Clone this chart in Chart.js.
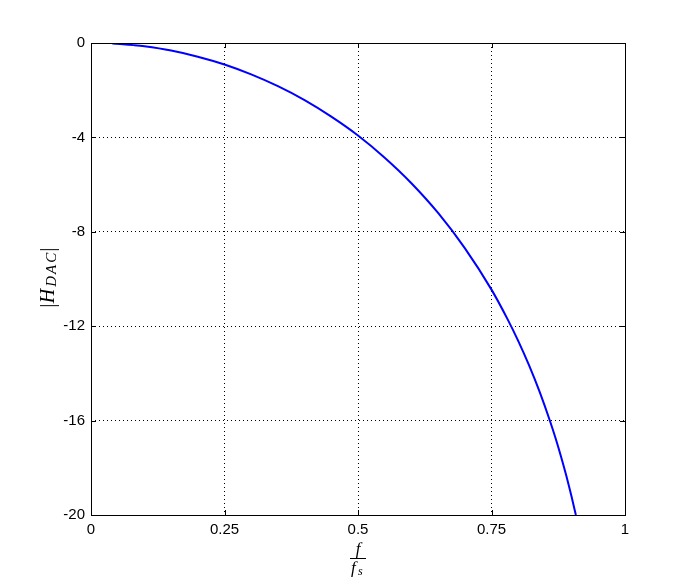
<!DOCTYPE html>
<html lang="en">
<head>
    <meta charset="UTF-8">
    <title>|H_DAC| vs f/fs</title>
    <style>
        body { margin: 0; background: #fff; }
        #chart { display: block; }
    </style>
</head>
<body>
    <canvas id="chart" width="691" height="579"></canvas>

    <script src="https://cdn.jsdelivr.net/npm/chart.js"></script>
    <script>
        // values
        const freq = [0.04, 0.06, 0.08, 0.1, 0.15, 0.2, 0.25, 0.3, 0.35, 0.4, 0.45, 0.5, 0.55, 0.6, 0.65, 0.7, 0.75, 0.78, 0.8, 0.82, 0.84, 0.86, 0.87, 0.88, 0.89, 0.895, 0.9, 0.908];
        const magDb = [-0.02, -0.05, -0.09, -0.14, -0.32, -0.58, -0.91, -1.33, -1.83, -2.42, -3.12, -3.92, -4.86, -5.94, -7.20, -8.69, -10.45, -11.70, -12.62, -13.64, -14.77, -16.05, -16.75, -17.51, -18.33, -18.77, -19.23, -20.0];
        const xTicks = [0, 0.25, 0.5, 0.75, 1];
        const yTicks = [0, -4, -8, -12, -16, -20];

        const points = freq.map((f, i) => ({ x: f, y: magDb[i] }));
        const tickFont = { family: 'Liberation Sans, Arial, sans-serif', size: 15 };

        // box, inward tick marks and the TeX-like axis labels
        const frame = {
            id: 'frame',
            afterDraw(chart) {
                const ctx = chart.ctx;
                const a = chart.chartArea;
                const xs = chart.scales.x, ys = chart.scales.y;
                const len = 5;
                ctx.save();
                ctx.strokeStyle = '#000';
                ctx.lineWidth = 1;
                ctx.beginPath();
                xTicks.forEach(v => {
                    const px = Math.round(xs.getPixelForValue(v)) + 0.5;
                    ctx.moveTo(px, a.bottom); ctx.lineTo(px, a.bottom - len);
                    ctx.moveTo(px, a.top); ctx.lineTo(px, a.top + len);
                });
                yTicks.forEach(v => {
                    const py = Math.round(ys.getPixelForValue(v)) + 0.5;
                    ctx.moveTo(a.left, py); ctx.lineTo(a.left + len, py);
                    ctx.moveTo(a.right, py); ctx.lineTo(a.right - len, py);
                });
                ctx.stroke();
                ctx.strokeRect(Math.round(a.left) + 0.5, Math.round(a.top) + 0.5,
                    Math.round(a.right - a.left), Math.round(a.bottom - a.top));

                // x label: f over f_s
                const cx = (a.left + a.right) / 2;
                ctx.fillStyle = '#000';
                ctx.textAlign = 'center';
                ctx.textBaseline = 'alphabetic';
                ctx.font = 'italic 17px "Liberation Serif", serif';
                ctx.fillText('f', cx, 554);
                ctx.beginPath();
                ctx.moveTo(cx - 8, 558.5); ctx.lineTo(cx + 8, 558.5);
                ctx.stroke();
                ctx.textAlign = 'left';
                ctx.fillText('f', cx - 7, 573);
                ctx.font = 'italic 12px "Liberation Serif", serif';
                ctx.fillText('s', cx, 575);

                // y label: |H_DAC|
                const cy = (a.top + a.bottom) / 2;
                ctx.translate(54, cy);
                ctx.rotate(-Math.PI / 2);
                const big = 'italic 20px "Liberation Serif", serif';
                const small = 'italic 15px "Liberation Serif", serif';
                const gap = 2;
                ctx.font = big;
                const w1 = ctx.measureText('|H').width;
                const w3 = ctx.measureText('|').width;
                ctx.font = small;
                const w2 = ctx.measureText('DAC').width + 2 * gap;
                let x0 = -(w1 + w2 + w3) / 2;
                ctx.font = big;
                ctx.fillText('|H', x0, 0);
                ctx.font = small;
                ctx.fillText('D', x0 + w1 + gap, 2);
                ctx.fillText('A', x0 + w1 + gap + ctx.measureText('D').width + gap, 2);
                ctx.fillText('C', x0 + w1 + gap + ctx.measureText('DA').width + 2 * gap, 2);
                ctx.font = big;
                ctx.fillText('|', x0 + w1 + w2 + 2, 0);
                ctx.restore();
            }
        };

        new Chart(document.getElementById('chart'), {
            type: 'scatter',
            data: {
                datasets: [{
                    data: points,
                    showLine: true,
                    borderColor: '#0000ff',
                    borderWidth: 2,
                    pointRadius: 0,
                    cubicInterpolationMode: 'monotone',
                    fill: false
                }]
            },
            options: {
                responsive: false,
                animation: false,
                devicePixelRatio: 1,
                layout: { padding: { left: 0, top: 43, right: 66, bottom: 0 } },
                plugins: { legend: { display: false }, tooltip: { enabled: false } },
                scales: {
                    x: {
                        type: 'linear',
                        min: 0,
                        max: 1,
                        afterFit: s => { s.height = 64; },
                        afterBuildTicks: s => { s.ticks = xTicks.map(v => ({ value: v })); },
                        ticks: {
                            color: '#000',
                            font: tickFont,
                            padding: 6,
                            maxRotation: 0,
                            callback: v => String(v)
                        },
                        grid: { color: '#000', drawTicks: false, lineWidth: 1 },
                        border: { display: false, dash: [1, 3] }
                    },
                    y: {
                        type: 'linear',
                        min: -20,
                        max: 0,
                        afterFit: s => { s.width = 91; },
                        afterBuildTicks: s => { s.ticks = yTicks.map(v => ({ value: v })); },
                        ticks: {
                            color: '#000',
                            font: tickFont,
                            padding: 6,
                            callback: v => String(v)
                        },
                        grid: { color: '#000', drawTicks: false, lineWidth: 1 },
                        border: { display: false, dash: [1, 3] }
                    }
                }
            },
            plugins: [frame]
        });
    </script>
</body>
</html>
